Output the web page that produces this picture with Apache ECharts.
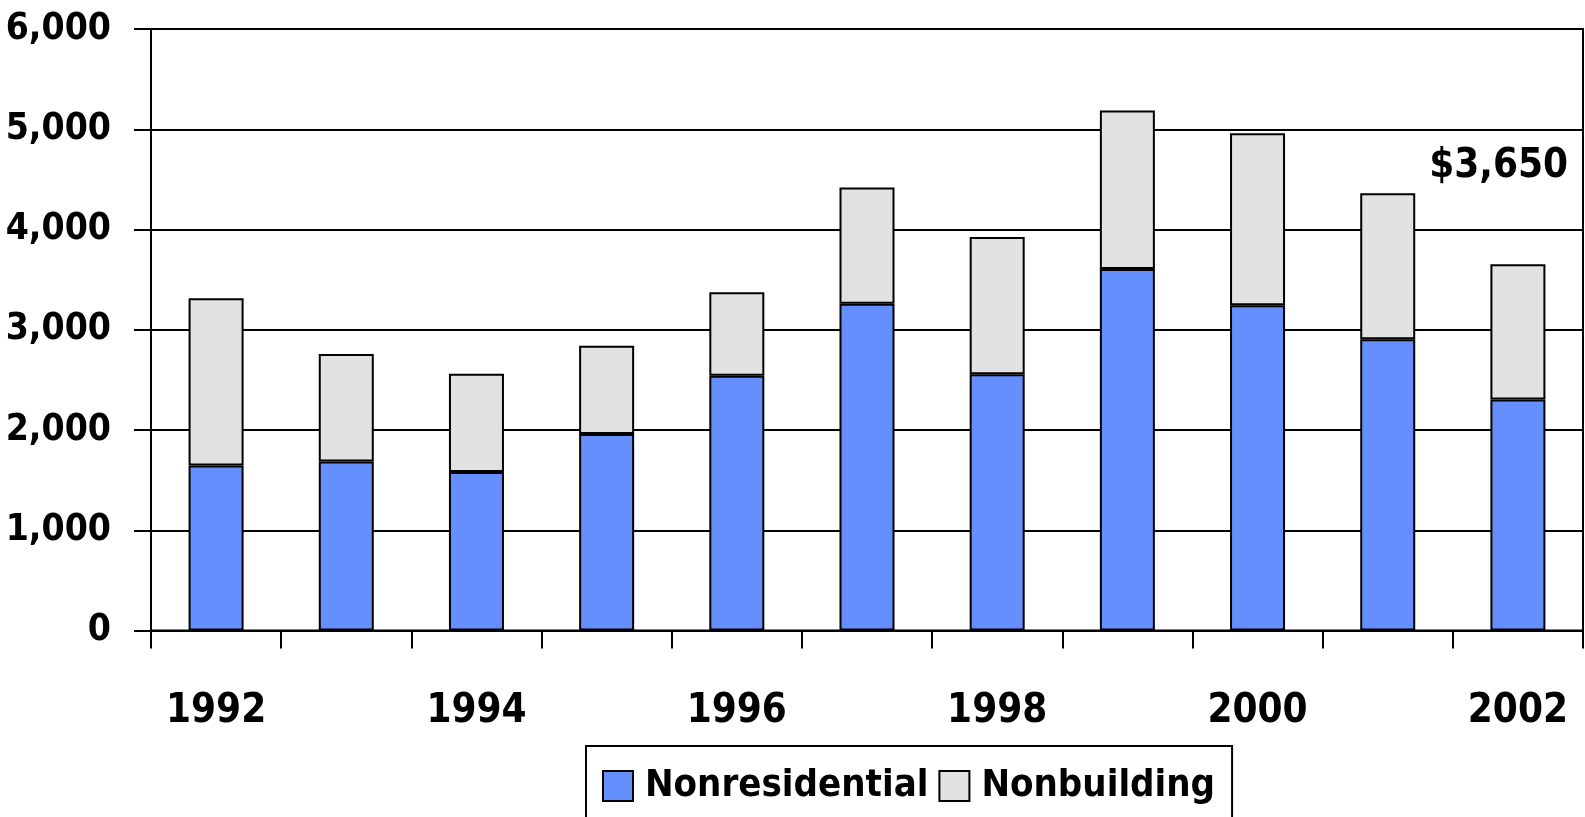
<!DOCTYPE html>
<html><head><meta charset="utf-8">
<script src="https://cdn.jsdelivr.net/npm/echarts@6/dist/echarts.min.js"></script>
<style>html,body{margin:0;padding:0;background:#fff}#c{width:1585px;height:817px}</style>
</head><body><div id="c"></div>
<script>
var years = ['1992','1993','1994','1995','1996','1997','1998','1999','2000','2001','2002'];
var nonresidential = [1645,1685,1580,1960,2540,3260,2555,3605,3245,2905,2305];
var nonbuilding = [1670,1072,982,880,833,1158,1370,1583,1715,1457,1348];
var yTicks = [0,1000,2000,3000,4000,5000,6000];
var annotation = '$3,650';

var FONT = '"Liberation Sans Narrow","Arial Narrow","DejaVu Sans Condensed",sans-serif';
var chart = echarts.init(document.getElementById('c'), null, {renderer:'canvas'});
chart.setOption({
  animation:false,
  backgroundColor:'#fff',
  grid:{left:151,right:2,top:29,bottom:186.5,outerBoundsMode:'none',containLabel:false,
        show:true,borderColor:'#000',borderWidth:2,backgroundColor:'transparent'},
  legend:{
    left:586, top:746,
    padding:[15,17,15,16],
    borderColor:'#000', borderWidth:2,
    itemWidth:30, itemHeight:30, itemGap:10,
    icon:'rect',
    itemStyle:{borderColor:'#000',borderWidth:2},
    textStyle:{fontFamily:FONT,fontWeight:'bold',fontSize:38,color:'#000',lineHeight:50,padding:[0,0,0,7]},
    data:['Nonresidential','Nonbuilding']
  },
  xAxis:{
    type:'category', data:years,
    axisLine:{lineStyle:{color:'#000',width:2}},
    axisTick:{show:true,interval:0,length:18,alignWithLabel:false,lineStyle:{color:'#000',width:2}},
    axisLabel:{interval:1,margin:61,fontFamily:FONT,fontWeight:'bold',fontSize:40,color:'#000',lineHeight:40}
  },
  yAxis:{
    type:'value', min:yTicks[0], max:yTicks[yTicks.length-1], interval:1000,
    axisLine:{show:true,lineStyle:{color:'#000',width:2}},
    axisTick:{show:true,length:17,lineStyle:{color:'#000',width:2}},
    splitLine:{show:true,lineStyle:{color:'#000',width:2}},
    axisLabel:{margin:40,fontFamily:FONT,fontWeight:'bold',fontSize:37,color:'#000',
      formatter:function(v){return v.toLocaleString('en-US');}}
  },
  series:[
    {name:'Nonresidential',type:'bar',stack:'t',data:nonresidential,barWidth:55,
     itemStyle:{color:'#648ffc',borderColor:'#000',borderWidth:2}},
    {name:'Nonbuilding',type:'bar',stack:'t',data:nonbuilding,barWidth:55,
     itemStyle:{color:'#e2e2e2',borderColor:'#000',borderWidth:2}}
  ],
  graphic:[{type:'text',x:1568,y:167,style:{text:annotation,align:'right',verticalAlign:'middle',
    fontFamily:FONT,fontWeight:'bold',fontSize:40,fill:'#000'}}]
});
</script></body></html>
